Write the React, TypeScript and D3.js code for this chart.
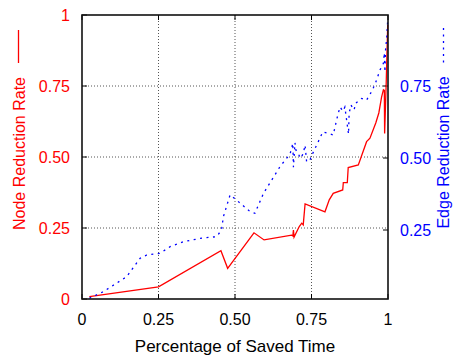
import React from "react";
import * as d3 from "d3";

const xTicks = [0, 0.25, 0.5, 0.75, 1];
const xTickLabels = ["0", "0.25", "0.50", "0.75", "1"];
const leftTicks = [0, 0.25, 0.5, 0.75, 1];
const leftTickLabels = ["0", "0.25", "0.50", "0.75", "1"];
const rightTicks = [0.25, 0.5, 0.75];
const rightTickLabels = ["0.25", "0.50", "0.75"];

// node reduction rate (left axis)
const nodeX = [0.024, 0.25, 0.454, 0.476, 0.562, 0.595, 0.685, 0.689, 0.691, 0.693, 0.71, 0.718, 0.723, 0.729, 0.794, 0.808, 0.821, 0.852, 0.854, 0.867, 0.87, 0.903, 0.93, 0.941, 0.96, 0.97, 0.979, 0.985, 0.988, 0.989, 0.994, 0.999];
const nodeY = [0.008, 0.043, 0.17, 0.108, 0.233, 0.208, 0.225, 0.222, 0.243, 0.218, 0.255, 0.267, 0.261, 0.335, 0.307, 0.349, 0.372, 0.384, 0.41, 0.41, 0.463, 0.472, 0.554, 0.566, 0.62, 0.655, 0.711, 0.737, 0.735, 0.583, 0.755, 0.965];

// edge reduction rate (right axis)
const edgeX = [0.024, 0.07, 0.146, 0.19, 0.211, 0.255, 0.288, 0.331, 0.386, 0.44, 0.456, 0.462, 0.484, 0.505, 0.549, 0.565, 0.593, 0.647, 0.68, 0.689, 0.691, 0.696, 0.699, 0.715, 0.723, 0.729, 0.734, 0.745, 0.754, 0.767, 0.787, 0.821, 0.832, 0.843, 0.853, 0.859, 0.866, 0.871, 0.873, 0.879, 0.889, 0.895, 0.914, 0.93, 0.946, 0.958, 0.974, 0.985, 0.988, 0.99, 0.992, 0.996, 0.999];
const edgeY = [0.013, 0.036, 0.088, 0.152, 0.163, 0.169, 0.192, 0.209, 0.221, 0.227, 0.25, 0.296, 0.372, 0.354, 0.314, 0.308, 0.377, 0.47, 0.514, 0.551, 0.468, 0.553, 0.528, 0.499, 0.516, 0.545, 0.487, 0.493, 0.516, 0.545, 0.591, 0.58, 0.632, 0.677, 0.663, 0.677, 0.622, 0.583, 0.656, 0.684, 0.667, 0.691, 0.707, 0.701, 0.73, 0.757, 0.806, 0.829, 0.865, 0.799, 0.875, 0.921, 0.979];

const W = 453;
const H = 358;
const left = 82;
const right = 388;
const top = 15;
const bottom = 299;
const font = "'Liberation Sans', Arial, Helvetica, sans-serif";

export default function App() {
  const x = d3.scaleLinear().domain([0, 1]).range([left, right]);
  const yL = d3.scaleLinear().domain([0, 1]).range([bottom, top]);
  const yR = d3.scaleLinear().domain([0, 1]).range([302, 14]);

  const nodeLine = d3
    .line<number>()
    .x((d, i) => x(nodeX[i]))
    .y(d => yL(d));
  const edgeLine = d3
    .line<number>()
    .x((d, i) => x(edgeX[i]))
    .y(d => yR(d));

  return (
    <svg
      width={W}
      height={H}
      style={{ position: "absolute", left: 0, top: 0, background: "#fff" }}
      fontFamily={font}
    >
      {/* grid */}
      <g stroke="#555" strokeWidth={1} strokeDasharray="1 2">
        {xTicks.slice(1, -1).map(t => (
          <line key={"gx" + t} x1={x(t)} x2={x(t)} y1={top} y2={bottom} />
        ))}
        {leftTicks.slice(1, -1).map(t => (
          <line key={"gy" + t} x1={left} x2={right} y1={yL(t)} y2={yL(t)} />
        ))}
      </g>

      {/* ticks */}
      <g stroke="#000" strokeWidth={1}>
        {xTicks.map(t => (
          <g key={"tx" + t}>
            <line x1={x(t)} x2={x(t)} y1={bottom} y2={bottom - 5} />
            <line x1={x(t)} x2={x(t)} y1={top} y2={top + 5} />
          </g>
        ))}
        {leftTicks.map(t => (
          <line key={"tl" + t} x1={left} x2={left + 5} y1={yL(t)} y2={yL(t)} />
        ))}
        {rightTicks.map(t => (
          <line key={"tr" + t} x1={right} x2={right - 5} y1={yR(t)} y2={yR(t)} />
        ))}
      </g>

      {/* data */}
      <path d={nodeLine(nodeY) || ""} fill="none" stroke="#ff0000" strokeWidth={1.3} />
      <path
        d={edgeLine(edgeY) || ""}
        fill="none"
        stroke="#0000ff"
        strokeWidth={1.3}
        strokeDasharray="2 4.5"
      />

      <rect x={left} y={top} width={right - left} height={bottom - top} fill="none" stroke="#111" strokeWidth={1.6} />

      {/* x tick labels */}
      {xTicks.map((t, i) => (
        <text key={"lx" + t} x={x(t)} y={324.5} textAnchor="middle" fontSize={16} fill="#000">
          {xTickLabels[i]}
        </text>
      ))}
      {leftTicks.map((t, i) => (
        <text key={"ll" + t} x={70} y={yL(t) + 6} textAnchor="end" fontSize={16} fill="#ff0000">
          {leftTickLabels[i]}
        </text>
      ))}
      {rightTicks.map((t, i) => (
        <text key={"lr" + t} x={400} y={yR(t) + 6} textAnchor="start" fontSize={16} fill="#0000ff">
          {rightTickLabels[i]}
        </text>
      ))}

      <text x={(left + right) / 2} y={352} textAnchor="middle" fontSize={17} fill="#000">
        Percentage of Saved Time
      </text>

      <text transform="translate(25,153.5) rotate(-90)" textAnchor="middle" fontSize={16} fill="#ff0000">
        Node Reduction Rate
      </text>
      <line x1={18.5} x2={18.5} y1={30} y2={63} stroke="#ff0000" strokeWidth={1.3} />

      <text transform="translate(448.5,152.5) rotate(-90)" textAnchor="middle" fontSize={16} fill="#0000ff">
        Edge Reduction Rate
      </text>
      <line x1={443.5} x2={443.5} y1={28} y2={63} stroke="#0000ff" strokeWidth={1.3} strokeDasharray="2 4.5" />
    </svg>
  );
}
